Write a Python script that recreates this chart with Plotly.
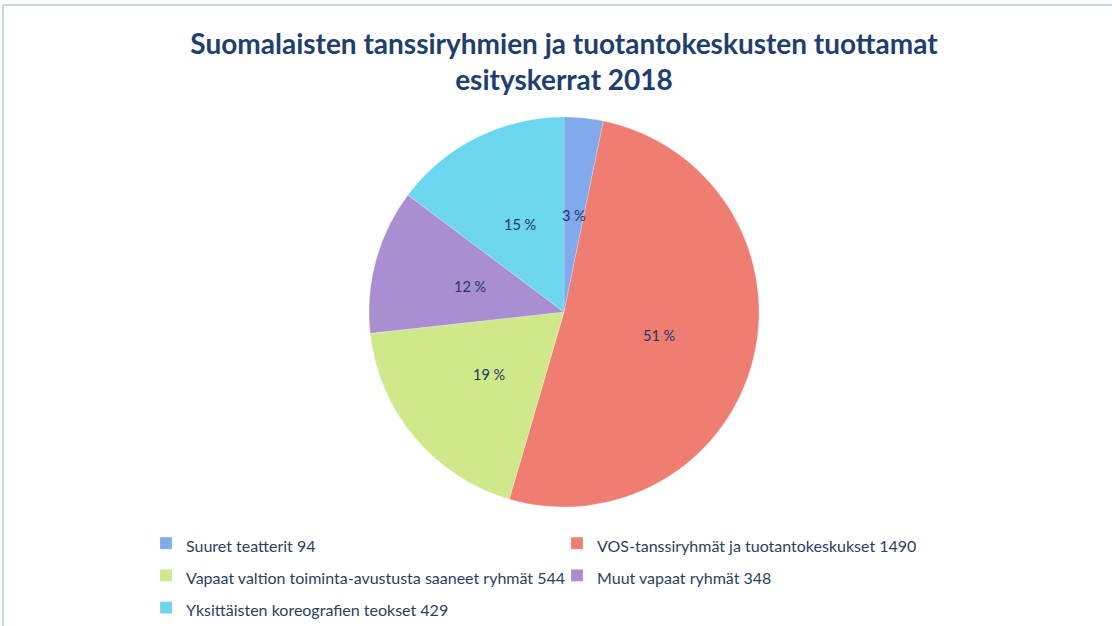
import math
import plotly.graph_objects as go

categories = ["Suuret teatterit", "VOS-tanssiryhmät ja tuotantokeskukset",
              "Vapaat valtion toiminta-avustusta saaneet ryhmät", "Muut vapaat ryhmät",
              "Yksittäisten koreografien teokset"]
values = [94, 1490, 544, 348, 429]
colors = ["#80aaec", "#ef7d71", "#cfe889", "#a98fd1", "#6cd6ef"]

FONT = "Lato, Open Sans, sans-serif"
labels = [f"<span style='font-size:16px'>{c} {v}</span>" for c, v in zip(categories, values)]
total = sum(values)
pct_text = [f"{round(v / total * 100)} %" for v in values]

W, H = 1112, 626
cx, cy, R = 564, 312, 195

fig = go.Figure(go.Pie(
    labels=labels, values=values, textinfo="none",
    sort=False, direction="clockwise", rotation=0,
    marker=dict(colors=colors, line=dict(color="rgba(255,255,255,0.4)", width=0.5)),
    domain=dict(x=[(cx - R) / W, (cx + R) / W], y=[(H - cy - R) / H, (H - cy + R) / H]),
    hoverinfo="label+percent",
))

# percentage labels at half radius, at each slice's mid-angle
annotations = []
cum = 0
for v, t in zip(values, pct_text):
    mid = (cum + v / 2) / total * 2 * math.pi
    cum += v
    px = cx + 0.5 * R * math.sin(mid)
    py = cy - 0.5 * R * math.cos(mid)
    annotations.append(dict(x=px / W, y=1 - py / H, xref="paper", yref="paper", text=t,
                            showarrow=False, xanchor="center", yanchor="middle",
                            font=dict(family=FONT, size=14.5, color="#203864")))

fig.update_layout(
    width=W, height=H,
    margin=dict(l=0, r=0, t=0, b=0, autoexpand=False),
    paper_bgcolor="white",
    title=dict(text="Suomalaisten tanssiryhmien ja tuotantokeskusten tuottamat<br>esityskerrat 2018",
               x=cx / W, xanchor="center", y=1 - 54 / H, yanchor="top",
               font=dict(family=FONT, size=28, color="#203f6e", weight="bold")),
    showlegend=True,
    legend=dict(orientation="h", x=146 / W, xanchor="left", y=1 - 522 / H, yanchor="top",
                entrywidth=366, entrywidthmode="pixels", itemwidth=30,
                font=dict(family=FONT, size=22.5, color="#2a3f66"),
                traceorder="normal"),
    annotations=annotations,
    shapes=[
        dict(type="line", xref="paper", yref="paper", x0=3 / W, x1=1, y0=1 - 5 / H, y1=1 - 5 / H,
             line=dict(color="#c8d6ea", width=2)),
        dict(type="line", xref="paper", yref="paper", x0=3 / W, x1=3 / W, y0=0, y1=1 - 5 / H,
             line=dict(color="#c8d6ea", width=2)),
    ],
)

fig.write_html("out.html", config={"displayModeBar": False},
               post_script="document.body.style.margin='0';")
